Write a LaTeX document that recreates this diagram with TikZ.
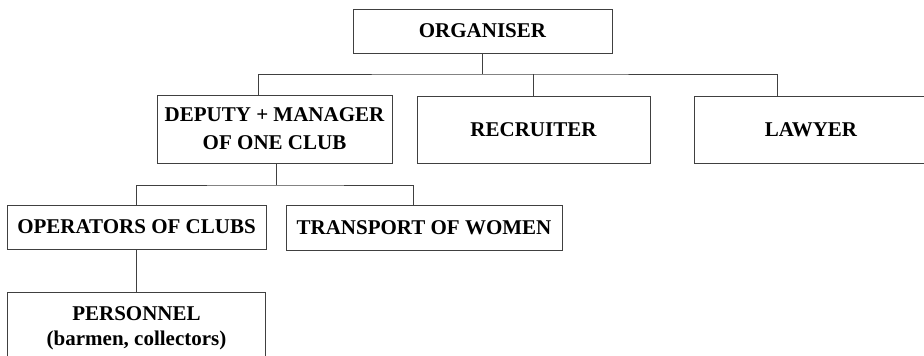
\documentclass[tikz,border=0pt]{standalone}
\usepackage{fontspec}
\setmainfont{Liberation Serif}
\usetikzlibrary{calc}

\begin{document}
\begin{tikzpicture}
    [
    x=1pt, y=-1pt,
    box/.style={draw=black!75, line width=0.8pt, align=center, inner sep=0pt,
        font=\fontsize{21}{28}\selectfont\bfseries},
    link/.style={draw=black!75, line width=0.8pt}
    ]
    \useasboundingbox (0,0) rectangle (924,356);
    \clip (0,0) rectangle (924,356);

    % top level
    \node[box, minimum width=259pt, minimum height=44pt] (organiser) at (482.5,31) {ORGANISER};

    % second level
    \node[box, minimum width=235pt, minimum height=68pt] (deputy) at (274.5,129) {DEPUTY + MANAGER\\OF ONE CLUB};
    \node[box, minimum width=233pt, minimum height=67pt] (recruiter) at (533.5,129.5) {RECRUITER};
    \node[box, minimum width=234pt, minimum height=67pt] (lawyer) at (811,129.5) {LAWYER};

    % third level
    \node[box, minimum width=259pt, minimum height=44pt] (operators) at (136.5,227) {OPERATORS OF CLUBS};
    \node[box, minimum width=276pt, minimum height=45pt] (transport) at (424,227.5) {TRANSPORT OF WOMEN};

    % fourth level
    \node[box, minimum width=258pt, minimum height=72pt,
        font=\fontsize{21}{25}\selectfont\bfseries] (personnel) at (136.5,328) {PERSONNEL\\(barmen, collectors)};

    % connectors
    \coordinate (topbus) at (482.5,74);
    \coordinate (midbus) at (276,185);
    \draw[link] (organiser.south) -- (topbus);
    \draw[link] ($(deputy.north)+(-16.5,0)$) |- (topbus) -| ($(lawyer.north west)+(84,0)$);
    \draw[link] (recruiter.north) -- (recruiter.north |- topbus);
    \draw[link] (deputy.south -| midbus) -- (midbus);
    \draw[link] (operators.north) |- (midbus) -| ($(transport.north)+(-11,0)$);
    \draw[link] (operators.south) -- (personnel.north);
\end{tikzpicture}
\end{document}
